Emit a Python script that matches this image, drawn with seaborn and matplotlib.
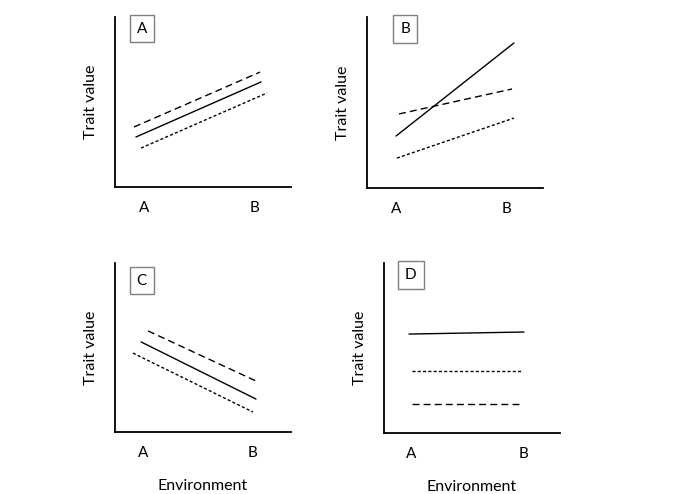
import matplotlib
matplotlib.use("Agg")
import matplotlib.pyplot as plt
import seaborn as sns
import pandas as pd

sns.set_theme(style="white")
plt.rcParams['font.family'] = ['Lato', 'DejaVu Sans']

# Data (abstract 0-10 units on each panel's axes)
env_labels = ["A", "B"]
panel_names = ["A", "B", "C", "D"]
line_styles = ["solid", "dashed", "dotted"]

# Panel A
a_tick_x = [1.65, 7.95]
a_solid_x = [1.19, 8.30]; a_solid_y = [2.94, 6.18]
a_dashed_x = [1.08, 8.24]; a_dashed_y = [3.53, 6.76]
a_dotted_x = [1.48, 8.64]; a_dotted_y = [2.29, 5.53]
# Panel B
b_tick_x = [1.65, 7.95]
b_solid_x = [1.65, 8.35]; b_solid_y = [3.04, 8.48]
b_dashed_x = [1.82, 8.24]; b_dashed_y = [4.33, 5.79]
b_dotted_x = [1.70, 8.35]; b_dotted_y = [1.75, 4.09]
# Panel C
c_tick_x = [1.59, 7.84]
c_solid_x = [1.48, 8.01]; c_solid_y = [5.33, 1.95]
c_dashed_x = [1.88, 8.13]; c_dashed_y = [5.98, 2.96]
c_dotted_x = [1.02, 7.84]; c_dotted_y = [4.67, 1.18]
# Panel D
d_tick_x = [1.53, 7.90]
d_solid_x = [1.42, 7.95]; d_solid_y = [5.82, 5.94]
d_dashed_x = [1.59, 7.84]; d_dashed_y = [1.71, 1.71]
d_dotted_x = [1.59, 7.84]; d_dotted_y = [3.65, 3.65]

panels = {
    "A": (a_tick_x, [(a_solid_x, a_solid_y), (a_dashed_x, a_dashed_y), (a_dotted_x, a_dotted_y)]),
    "B": (b_tick_x, [(b_solid_x, b_solid_y), (b_dashed_x, b_dashed_y), (b_dotted_x, b_dotted_y)]),
    "C": (c_tick_x, [(c_solid_x, c_solid_y), (c_dashed_x, c_dashed_y), (c_dotted_x, c_dotted_y)]),
    "D": (d_tick_x, [(d_solid_x, d_solid_y), (d_dashed_x, d_dashed_y), (d_dotted_x, d_dotted_y)]),
}

W, H = 696, 494
fig = plt.figure(figsize=(W / 100, H / 100), dpi=100)

# axes boxes in pixels: left, right, top, bottom
boxes = {
    "A": (115, 291, 17, 187),
    "B": (367, 543, 17, 188),
    "C": (115, 291, 263, 432),
    "D": (384, 560, 263, 433),
}
label_pos = {"A": (0.153, 0.932), "B": (0.216, 0.93), "C": (0.151, 0.896), "D": (0.153, 0.929)}

dash_map = {"solid": "", "dashed": (5, 3), "dotted": (2.2, 1.6)}

for name in panel_names:
    l, r, t, b = boxes[name]
    ax = fig.add_axes([l / W, 1 - b / H, (r - l) / W, (b - t) / H])
    ticks, lines = panels[name]
    rows = []
    for style, (xs, ys) in zip(line_styles, lines):
        for x, y in zip(xs, ys):
            rows.append({"x": x, "y": y, "style": style})
    df = pd.DataFrame(rows)
    sns.lineplot(data=df, x="x", y="y", style="style", dashes=dash_map,
                 color="black", linewidth=1.0, legend=False, ax=ax, estimator=None)
    ax.set_xlim(0, 10)
    ax.set_ylim(0, 10)
    ax.set_facecolor("white")
    for s in ["top", "right"]:
        ax.spines[s].set_visible(False)
    for s in ["left", "bottom"]:
        ax.spines[s].set_color("black")
        ax.spines[s].set_linewidth(1.3)
    ax.set_xticks(ticks)
    ax.set_xticklabels(env_labels, fontsize=11, color="black")
    ax.tick_params(axis="x", length=0, pad=10)
    ax.set_yticks([])
    ax.set_ylabel("Trait value", fontsize=11.5, color="black", labelpad=12)
    if name in ("C", "D"):
        ax.set_xlabel("Environment", fontsize=11.5, color="black", labelpad=14)
    else:
        ax.set_xlabel("")
    lx, ly = label_pos[name]
    ax.text(lx, ly, name, transform=ax.transAxes, ha="center", va="center",
            fontsize=11, color="black", clip_on=False,
            bbox=dict(boxstyle="square,pad=0.45", facecolor="white",
                      edgecolor="#7f7f7f", linewidth=1.0))

fig.savefig("out.png", dpi=100, facecolor="white")
